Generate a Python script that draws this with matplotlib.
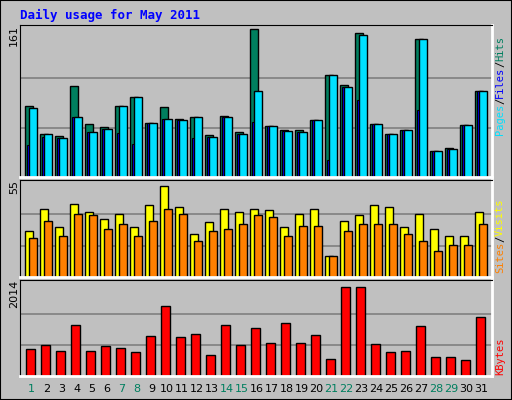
import matplotlib
matplotlib.use("Agg")
import matplotlib.pyplot as plt
from matplotlib.transforms import blended_transform_factory
import numpy as np

days = list(range(1, 32))
weekend_days = [1, 7, 8, 14, 15, 21, 22, 28, 29]
hits = [77, 47, 45, 99, 58, 54, 77, 87, 59, 76, 63, 65, 46, 66, 49, 161, 55, 51, 51, 62, 111, 100, 157, 58, 47, 51, 150, 28, 32, 57, 94]
files = [75, 47, 42, 65, 49, 52, 77, 87, 59, 63, 62, 65, 43, 65, 47, 94, 55, 50, 49, 62, 111, 98, 155, 58, 47, 51, 150, 28, 31, 57, 94]
pages = [35, 44, 42, 65, 49, 52, 48, 36, 59, 63, 62, 42, 43, 65, 47, 60, 55, 50, 49, 62, 18, 98, 84, 58, 47, 51, 73, 28, 31, 57, 94]
visits = [27, 40, 29, 43, 38, 34, 37, 29, 42, 53, 41, 25, 32, 40, 38, 40, 39, 29, 37, 40, 12, 33, 36, 42, 41, 29, 37, 28, 24, 24, 38]
sites = [23, 33, 24, 37, 36, 28, 31, 24, 33, 40, 37, 21, 27, 28, 31, 36, 35, 24, 30, 30, 12, 27, 31, 31, 31, 25, 21, 15, 19, 19, 31]
kbytes = [587, 671, 545, 1112, 545, 650, 608, 524, 860, 1510, 839, 902, 461, 1112, 671, 1049, 713, 1154, 713, 881, 378, 1930, 1930, 692, 524, 545, 1091, 420, 420, 336, 1280]

W, H = 512, 400
fig = plt.figure(figsize=(W/100, H/100), dpi=100)
fig.patch.set_facecolor("#c0c0c0")
fig.patches.append(plt.Rectangle((0, 0), 1, 1, transform=fig.transFigure, fill=False, ec="black", lw=1.5))

BG = "#c0c0c0"
x = np.arange(31)
L, R = 20, 492

def mkax(top, bot, vmax, datatop):
    ax = fig.add_axes([L/W, 1-bot/H, (R-L)/W, (bot-top)/H])
    ax.set_facecolor(BG)
    ax.set_xlim(-0.33, 31.14)
    ax.set_ylim(0, vmax*(bot-top)/(bot-datatop))
    for v in (vmax/3, 2*vmax/3):
        ax.axhline(v, color="#808080", lw=1.2, zorder=0)
    ax.set_xticks([]); ax.set_yticks([])
    for s in ("left", "top"):
        ax.spines[s].set_color("black")
    for s in ("right", "bottom"):
        ax.spines[s].set_color("white"); ax.spines[s].set_linewidth(2)
    return ax

ax1 = mkax(25, 177, 161, 29)
ax1.bar(x, hits, width=0.53, align="edge", color="#007f5f", ec="black", lw=1)
ax1.bar(x+0.13, pages, width=0.3, align="edge", color="#0000ff", ec="black", lw=0.8)
ax1.bar(x+0.27, files, width=0.53, align="edge", color="#00e0ff", ec="black", lw=1)

ax2 = mkax(180, 277, 55, 183)
ax2.bar(x, visits, width=0.53, align="edge", color="#ffff00", ec="black", lw=1)
ax2.bar(x+0.27, sites, width=0.53, align="edge", color="#ff8000", ec="black", lw=1)

ax3 = mkax(280, 376, 2014, 283)
ax3.bar(x+0.07, kbytes, width=0.6, align="edge", color="#ff0000", ec="black", lw=1)

tr = blended_transform_factory(ax3.transData, fig.transFigure)
for i, d in enumerate(days):
    c = "#007f5f" if d in weekend_days else "black"
    ax3.text(i+0.45, 1-389/H, str(d), transform=tr, ha="center", va="center",
             fontsize=8, color=c, family="DejaVu Sans")

fig.text(20/W, 1-15/H, "Daily usage for May 2011", color="#0000ff", fontsize=9,
         fontweight="bold", family="DejaVu Sans Mono", va="center")

for lab, y in (("161", 25), ("55", 180), ("2014", 280)):
    fig.text(14/W, 1-y/H, lab, rotation=90, ha="center", va="top", fontsize=8)

def rlabel(parts, ybot):
    # parts listed bottom-to-top, text reads upward
    y = ybot
    for t, c in parts:
        fig.text(500/W, 1-y/H, t, rotation=90, color=c, ha="center", va="bottom",
                 fontsize=7.5, family="DejaVu Sans Mono")
        y -= 6.2*len(t)

rlabel([("Pages", "#00e0ff"), ("/", "black"), ("Files", "#0000ff"), ("/", "black"), ("Hits", "#007f5f")], 135)
rlabel([("Sites", "#ff8000"), ("/", "black"), ("Visits", "#ffff00")], 273)
rlabel([("KBytes", "#ff0000")], 375)

fig.savefig("out.png", dpi=100, facecolor=fig.get_facecolor())
